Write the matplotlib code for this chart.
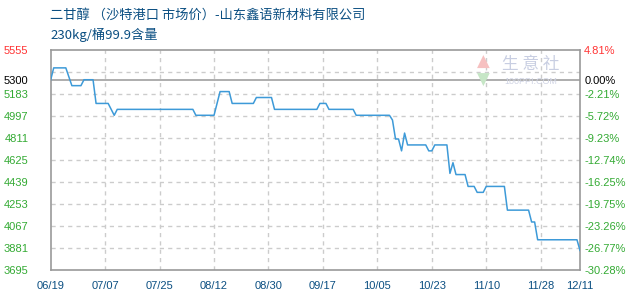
import matplotlib
matplotlib.use('Agg')
import matplotlib.pyplot as plt
from datetime import date, timedelta

plt.rcParams['font.family'] = ['Liberation Sans', 'Noto Sans CJK SC']

title = '二甘醇 （沙特港口 市场价）-山东鑫语新材料有限公司'
subtitle = '230kg/桶99.9含量'

start = date(2023, 6, 19)
# day offset from 06/19 and price (yuan/ton) at each change point
day_offsets = [0, 1, 5, 7, 10, 11, 14, 15, 19, 21, 22, 47, 48, 54, 56, 59, 60,
               67, 68, 73, 74, 88, 89, 91, 92, 100, 101, 112, 113, 114, 115,
               116, 117, 118, 124, 125, 126, 127, 131, 132, 133, 134, 137, 138,
               140, 141, 143, 144, 150, 151, 158, 159, 160, 161, 174, 175]
prices = [5300, 5400, 5400, 5250, 5250, 5300, 5300, 5100, 5100, 5000, 5050,
          5050, 5000, 5000, 5200, 5200, 5100, 5100, 5150, 5150, 5050, 5050,
          5100, 5100, 5050, 5050, 5000, 5000, 4960, 4800, 4800, 4700, 4850,
          4750, 4750, 4700, 4700, 4750, 4750, 4510, 4600, 4500, 4500, 4400,
          4400, 4350, 4350, 4400, 4400, 4200, 4200, 4100, 4100, 3950, 3950,
          3860]

base_price = 5300
y_ticks = [3695, 3881, 4067, 4253, 4439, 4625, 4811, 4997, 5183, 5300, 5555]
grid_levels = [3881, 4067, 4253, 4439, 4625, 4811, 4997, 5183, 5369]
tick_labels = ['06/19', '07/07', '07/25', '08/12', '08/30', '09/17', '10/05',
               '10/23', '11/10', '11/28', '12/11']

dates = [start + timedelta(days=d) for d in day_offsets]
tick_dates = [date(2023, int(t[:2]), int(t[3:])) for t in tick_labels]

red = '#ff3333'
green = '#33aa33'
blue = '#0b4f82'
frame = '#999999'

fig = plt.figure(figsize=(6.3, 3.0), dpi=100)
ax = fig.add_axes([50.7 / 630, 0.1, (580 - 50.7) / 630, 0.735])

ax.set_xlim(start, tick_dates[-1])
ax.set_ylim(3695, 5555)

for g in grid_levels:
    ax.axhline(g, color='#cccccc', lw=1, ls=(0, (3, 3)), zorder=1)
for d in tick_dates[1:-1]:
    ax.axvline(d, color='#cccccc', lw=1, ls=(0, (3, 3)), zorder=1)
ax.axhline(base_price, color='#a0a0a0', lw=1.2, zorder=2)

ax.plot(dates, prices, color='#3d9ad8', lw=1.1, zorder=3)

for s in ax.spines.values():
    s.set_color(frame)
    s.set_linewidth(1.2)

ax.set_xticks(tick_dates)
ax.set_xticklabels(tick_labels, color=blue, fontsize=8)
ax.tick_params(axis='x', length=0, pad=8)

ax.set_yticks(y_ticks)
ax.set_yticklabels([str(v) for v in y_ticks], fontsize=8)
ax.tick_params(axis='y', length=0, pad=16)
for lab, v in zip(ax.get_yticklabels(), y_ticks):
    lab.set_color(red if v > base_price else ('black' if v == base_price else green))

ax2 = ax.twinx()
ax2.set_ylim(ax.get_ylim())
ax2.set_yticks(y_ticks)
ax2.set_yticklabels(['%.2f%%' % ((v - base_price) / base_price * 100) for v in y_ticks],
                    fontsize=8)
ax2.tick_params(axis='y', length=0, pad=3)
for lab, v in zip(ax2.get_yticklabels(), y_ticks):
    lab.set_color(red if v > base_price else ('black' if v == base_price else green))
for s in ax2.spines.values():
    s.set_visible(False)

fig.text(50 / 630, 1 - 15 / 300, title, color=blue, fontsize=9.5, va='center',
         family=['Noto Sans CJK SC', 'DejaVu Sans'])
fig.text(50 / 630, 1 - 35 / 300, subtitle, color=blue, fontsize=9.5, va='center',
         family=['Noto Sans CJK SC', 'DejaVu Sans'])

# faint watermark
fig.text(483 / 630, 1 - 62 / 300, '▲', color='#f6c0c0', fontsize=12,
         ha='center', va='center', zorder=0, family=['DejaVu Sans'])
fig.text(483 / 630, 1 - 80 / 300, '▼', color='#c6e6c6', fontsize=12,
         ha='center', va='center', zorder=0, family=['DejaVu Sans'])
fig.text(531 / 630, 1 - 65 / 300, '生 意 社', color='#c8cee2', fontsize=12,
         ha='center', va='center', family=['Noto Sans CJK SC'], zorder=0)
fig.text(531 / 630, 1 - 81 / 300, '100PPI.COM', color='#d0d4e4', fontsize=6.5,
         ha='center', va='center', zorder=0)

fig.savefig('out.png', dpi=100)
